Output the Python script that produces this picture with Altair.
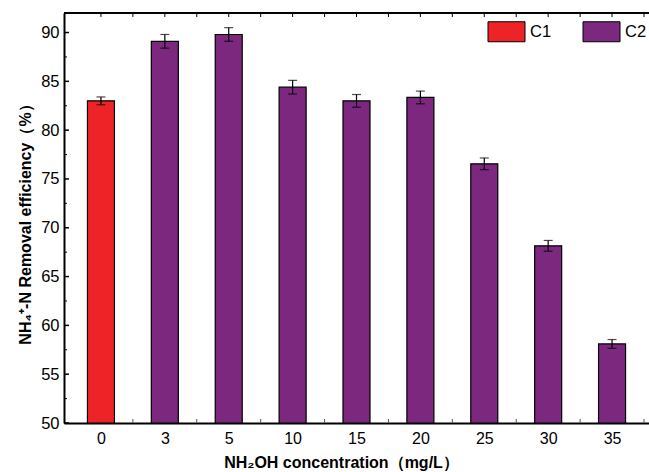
import json
import altair as alt
import pandas as pd

# ---- data ----
concentrations = ["0", "3", "5", "10", "15", "20", "25", "30", "35"]
removal = [83.0, 89.1, 89.8, 84.4, 83.0, 83.35, 76.55, 68.15, 58.1]
errors = [0.4, 0.7, 0.7, 0.7, 0.65, 0.65, 0.6, 0.55, 0.45]
groups = ["C1", "C2", "C2", "C2", "C2", "C2", "C2", "C2", "C2"]
y_major = [50, 55, 60, 65, 70, 75, 80, 85, 90]
y_minor = [52.5, 57.5, 62.5, 67.5, 72.5, 77.5, 82.5, 87.5]
y_base = 50

W, H = 585, 410
FONT = "Liberation Sans"
RED = "#EE2328"
PURPLE = "#7B287E"

idx = list(range(len(concentrations)))
df = pd.DataFrame({
    "idx": idx,
    "conc": concentrations,
    "value": removal,
    "lo": [v - e for v, e in zip(removal, errors)],
    "hi": [v + e for v, e in zip(removal, errors)],
    "group": groups,
})

xs = alt.Scale(domain=[-0.5, len(idx) - 0.5], nice=False, zero=False)
ys = alt.Scale(domain=[50, 92], nice=False, zero=False)

label_expr = json.dumps(concentrations) + "[datum.value]"

bars = alt.Chart(df).mark_bar(size=27, stroke="black", strokeWidth=1.2, clip=True).encode(
    x=alt.X("idx:Q", scale=xs,
            axis=alt.Axis(values=idx, labelExpr=label_expr, ticks=False, grid=False,
                          domainColor="black", domainWidth=2, labelFont=FONT,
                          labelFontSize=16, labelColor="black", labelPadding=7,
                          labelFlush=False,
                          title="NH₂OH concentration（mg/L）", titleFont=FONT,
                          titleFontSize=16, titleFontWeight="bold", titleColor="black",
                          titleX=277, titleY=44, titleBaseline="alphabetic")),
    y=alt.Y("value:Q", scale=ys,
            axis=alt.Axis(values=y_major, ticks=False, grid=False, domainColor="black",
                          domainWidth=2, labelFont=FONT, labelFontSize=16.5,
                          labelColor="black", labelPadding=5,
                          title="NH₄⁺-N Removal efficiency（%）", titleFont=FONT,
                          titleFontSize=16, titleFontWeight="bold", titleColor="black",
                          titleAngle=270, titleX=-39, titleY=207, titleAlign="center",
                          titleBaseline="middle")),
    y2=alt.datum(y_base),
    color=alt.Color("group:N",
                    scale=alt.Scale(domain=["C1", "C2"], range=[RED, PURPLE]),
                    legend=alt.Legend(title=None, orient="none", legendX=422, legendY=-2,
                                      direction="horizontal", columns=2,
                                      symbolType="M-0.925,-0.5L0.925,-0.5L0.925,0.5L-0.925,0.5Z",
                                      symbolSize=1600, symbolStrokeColor="black",
                                      symbolStrokeWidth=1, symbolOpacity=1,
                                      labelFont=FONT, labelFontSize=16.5, labelColor="black",
                                      labelOffset=3, columnPadding=29, padding=0)),
)

err_rule = alt.Chart(df).mark_rule(color="black", strokeWidth=1.2).encode(
    x=alt.X("idx:Q", scale=xs), y=alt.Y("lo:Q", scale=ys), y2="hi:Q")
cap_lo = alt.Chart(df).mark_tick(color="black", orient="horizontal", size=9,
                                 thickness=1.2).encode(
    x=alt.X("idx:Q", scale=xs), y=alt.Y("lo:Q", scale=ys))
cap_hi = alt.Chart(df).mark_tick(color="black", orient="horizontal", size=9,
                                 thickness=1.2).encode(
    x=alt.X("idx:Q", scale=xs), y=alt.Y("hi:Q", scale=ys))

# inward axis ticks
ymaj = pd.DataFrame({"v": y_major})
ymin = pd.DataFrame({"v": y_minor})
xpos = pd.DataFrame({"p": [i + d for i in idx for d in (0, 0.5)]})

ytick_major = alt.Chart(ymaj).mark_rule(color="black", strokeWidth=1.5).encode(
    y=alt.Y("v:Q", scale=ys), x=alt.value(0), x2=alt.value(5))
ytick_minor = alt.Chart(ymin).mark_rule(color="black", strokeWidth=1).encode(
    y=alt.Y("v:Q", scale=ys), x=alt.value(0), x2=alt.value(3))
xtick_top = alt.Chart(xpos).mark_rule(color="black", strokeWidth=1).encode(
    x=alt.X("p:Q", scale=xs), y=alt.value(0), y2=alt.value(4))
xtick_bottom = alt.Chart(xpos).mark_rule(color="#555555", strokeWidth=1).encode(
    x=alt.X("p:Q", scale=xs), y=alt.value(H), y2=alt.value(H - 4))

top_line = alt.Chart(pd.DataFrame({"a": [0]})).mark_rule(color="black", strokeWidth=2).encode(
    x=alt.value(0), x2=alt.value(W), y=alt.value(0))

chart = alt.layer(
    xtick_bottom, bars, err_rule, cap_lo, cap_hi, ytick_major, ytick_minor, xtick_top, top_line
).properties(
    width=W, height=H,
    autosize=alt.AutoSizeParams(type="none"),
    padding={"left": 64, "top": 13, "right": 0, "bottom": 49},
).configure_view(stroke=None).configure(background="white")

chart.save("out.html", embed_options={"renderer": "svg", "actions": False})
